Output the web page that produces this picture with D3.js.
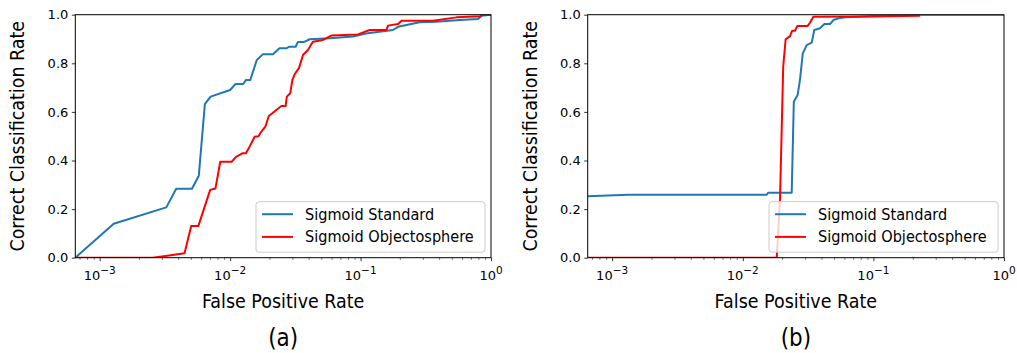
<!DOCTYPE html>
<html>
<head>
<meta charset="utf-8">
<script src="https://cdn.jsdelivr.net/npm/d3@7"></script>
<style>
  body { margin: 0; background: #fff; }
  svg text { font-family: "DejaVu Sans", sans-serif; fill: #000; }
</style>
</head>
<body>
<svg id="chart" width="1017" height="353"></svg>
<script>
// datos
const seriesNames = ['Sigmoid Standard', 'Sigmoid Objectosphere'];
const seriesColors = ['#1f77b4', '#ff0000'];
const panelLabels = ['(a)', '(b)'];
const xTickLabels = ['10^-3', '10^-2', '10^-1', '10^0'];
const yTickLabels = ['0.0', '0.2', '0.4', '0.6', '0.8', '1.0'];

// (a) Sigmoid Standard
const fprStdA = [6.5e-4, 1.28e-3, 3.24e-3, 3.86e-3, 5.1e-3, 5.75e-3, 6.4e-3, 7.08e-3, 0.01, 0.011, 0.0126, 0.0132, 0.01426, 0.016, 0.0178, 0.0213, 0.0239, 0.0272, 0.0282, 0.0318, 0.0331, 0.037, 0.0407, 0.058, 0.0875, 0.11, 0.177, 0.194, 0.284, 0.382, 0.575, 0.796, 0.845, 1.0];
const ccrStdA = [0, 0.14, 0.207, 0.284, 0.284, 0.337, 0.632, 0.663, 0.69, 0.715, 0.715, 0.731, 0.731, 0.813, 0.837, 0.837, 0.862, 0.862, 0.868, 0.868, 0.888, 0.888, 0.899, 0.903, 0.91, 0.923, 0.937, 0.95, 0.969, 0.971, 0.978, 0.982, 0.996, 1.0];

// (a) Sigmoid Objectosphere
const fprObjA = [6.5e-4, 2.55e-3, 3.2e-3, 4.47e-3, 5.03e-3, 5.7e-3, 7.03e-3, 7.72e-3, 8.4e-3, 0.0103, 0.0111, 0.0125, 0.0132, 0.0141, 0.0154, 0.0165, 0.0173, 0.0186, 0.0198, 0.0226, 0.0247, 0.0266, 0.0272, 0.0289, 0.030, 0.0313, 0.0337, 0.0362, 0.0395, 0.042, 0.0432, 0.0515, 0.0597, 0.0955, 0.1175, 0.158, 0.162, 0.194, 0.206, 0.36, 0.543, 0.83, 0.845, 1.0];
const ccrObjA = [0, 0, 0.007, 0.018, 0.13, 0.13, 0.279, 0.285, 0.395, 0.395, 0.415, 0.43, 0.43, 0.457, 0.498, 0.5, 0.518, 0.539, 0.583, 0.608, 0.624, 0.624, 0.663, 0.677, 0.731, 0.756, 0.78, 0.834, 0.855, 0.879, 0.889, 0.896, 0.914, 0.919, 0.937, 0.937, 0.955, 0.962, 0.975, 0.975, 0.989, 0.994, 1.0, 1.0];

// (b) Sigmoid Standard
const fprStdB = [6.5e-4, 1.33e-3, 0.01524, 0.01567, 0.0237, 0.0246, 0.0263, 0.0274, 0.0288, 0.0309, 0.0337, 0.0353, 0.039, 0.0422, 0.0467, 0.0494, 0.054, 0.0607, 0.0767, 0.1, 0.2, 1.0];
const ccrStdB = [0.253, 0.259, 0.259, 0.2675, 0.2675, 0.642, 0.67, 0.731, 0.841, 0.875, 0.885, 0.937, 0.944, 0.962, 0.962, 0.978, 0.985, 0.989, 0.992, 0.995, 1.0, 1.0];

// (b) Sigmoid Objectosphere
const fprObjB = [6.5e-4, 0.0182, 0.0193, 0.0204, 0.0213, 0.023, 0.0239, 0.0251, 0.0262, 0.0314, 0.0327, 0.0347, 0.1, 0.228];
const ccrObjB = [0, 0, 0.247, 0.786, 0.899, 0.912, 0.934, 0.934, 0.954, 0.954, 0.967, 0.992, 0.993, 0.996];

const svg = d3.select('#chart');
const plotTop = 14.7, plotBottom = 257.7;

drawPanel(0, 75.3, 491, [[fprStdA, ccrStdA], [fprObjA, ccrObjA]]);
drawPanel(1, 587.7, 1004, [[fprStdB, ccrStdB], [fprObjB, ccrObjB]]);

function drawPanel(idx, left, right, series) {
    let x = d3.scaleLog().domain([6.5e-4, 1]).range([left, right]);
    let y = d3.scaleLinear().domain([0, 1]).range([plotBottom, plotTop]);

    let g = svg.append('g');

    g.append('clipPath').attr('id', 'clip' + idx)
        .append('rect')
        .attr('x', left).attr('y', plotTop)
        .attr('width', right - left).attr('height', plotBottom - plotTop);

    // eje x con menores
    let majors = [1e-3, 1e-2, 1e-1, 1];
    let minors = [];
    [1e-4, 1e-3, 1e-2, 1e-1].forEach(function(d) {
        for (let k = 2; k < 10; k++) {
            let v = d * k;
            if (v >= 6.5e-4 && v <= 1) minors.push(v);
        }
    });

    let xAxis = g.append('g').attr('transform', 'translate(0,' + plotBottom + ')')
        .call(d3.axisBottom(x).tickValues(majors).tickSize(3.5).tickFormat(''));
    xAxis.select('.domain').remove();
    xAxis.selectAll('line').attr('stroke', '#000').attr('stroke-width', 0.8);

    let xMinor = g.append('g').attr('transform', 'translate(0,' + plotBottom + ')')
        .call(d3.axisBottom(x).tickValues(minors).tickSize(2).tickFormat(''));
    xMinor.select('.domain').remove();
    xMinor.selectAll('line').attr('stroke', '#000').attr('stroke-width', 0.6);

    majors.forEach(function(v, i) {
        let parts = xTickLabels[i].split('^');
        let t = g.append('text')
            .attr('x', x(v)).attr('y', plotBottom + 22)
            .attr('text-anchor', 'middle')
            .style('font-size', '13px');
        t.append('tspan').text(parts[0]);
        t.append('tspan').attr('dy', -5.5).style('font-size', '10.5px')
            .text(parts[1].replace('-', '\u2212'));
    });

    // eje y
    let yAxis = g.append('g').attr('transform', 'translate(' + left + ',0)')
        .call(d3.axisLeft(y).tickValues([0, 0.2, 0.4, 0.6, 0.8, 1.0]).tickSize(3.5)
            .tickFormat(function(d, i) { return yTickLabels[i]; }));
    yAxis.select('.domain').remove();
    yAxis.selectAll('line').attr('stroke', '#000').attr('stroke-width', 0.8);
    yAxis.selectAll('text')
        .attr('x', -7)
        .style('font-family', '"DejaVu Sans", sans-serif')
        .style('font-size', '13px');

    // lineas
    let line = d3.line()
        .x(function(d) { return x(d[0]); })
        .y(function(d) { return y(d[1]); });

    let lines = g.append('g').attr('clip-path', 'url(#clip' + idx + ')');
    series.forEach(function(s, i) {
        let pts = s[0].map(function(v, j) { return [v, s[1][j]]; });
        lines.append('path')
            .attr('d', line(pts))
            .attr('fill', 'none')
            .attr('stroke', seriesColors[i])
            .attr('stroke-width', 2)
            .attr('stroke-linejoin', 'round');
    });

    // marco
    g.append('rect')
        .attr('x', left).attr('y', plotTop)
        .attr('width', right - left).attr('height', plotBottom - plotTop)
        .attr('fill', 'none').attr('stroke', '#000').attr('stroke-width', 1);

    // leyenda
    let lx = right - 235, ly = plotBottom - 56;
    let leg = g.append('g');
    leg.append('rect')
        .attr('x', lx).attr('y', ly)
        .attr('width', 229).attr('height', 50.5)
        .attr('rx', 3)
        .attr('fill', '#fff').attr('fill-opacity', 0.8)
        .attr('stroke', '#cccccc').attr('stroke-width', 1);
    seriesNames.forEach(function(name, i) {
        let yy = ly + 12.5 + i * 22.7;
        leg.append('line')
            .attr('x1', lx + 6).attr('x2', lx + 37)
            .attr('y1', yy).attr('y2', yy)
            .attr('stroke', seriesColors[i]).attr('stroke-width', 2);
        leg.append('text')
            .attr('transform', 'translate(' + (lx + 49) + ',' + (yy + 5.5) + ') scale(1,1.06)')
            .style('font-size', '14.5px')
            .text(name);
    });

    // titulos
    g.append('text')
        .attr('transform', 'translate(' + (left - 51) + ',' + ((plotTop + plotBottom) / 2) + ') rotate(-90) scale(1,1.1)')
        .attr('text-anchor', 'middle')
        .style('font-size', '17.5px')
        .text('Correct Classification Rate');

    g.append('text')
        .attr('transform', 'translate(' + ((left + right) / 2) + ',308) scale(1,1.1)')
        .attr('text-anchor', 'middle')
        .style('font-size', '17.5px')
        .text('False Positive Rate');

    g.append('text')
        .attr('transform', 'translate(' + ((left + right) / 2) + ',346) scale(1,1.15)')
        .attr('text-anchor', 'middle')
        .style('font-size', '21.5px')
        .text(panelLabels[idx]);
}
</script>
</body>
</html>
